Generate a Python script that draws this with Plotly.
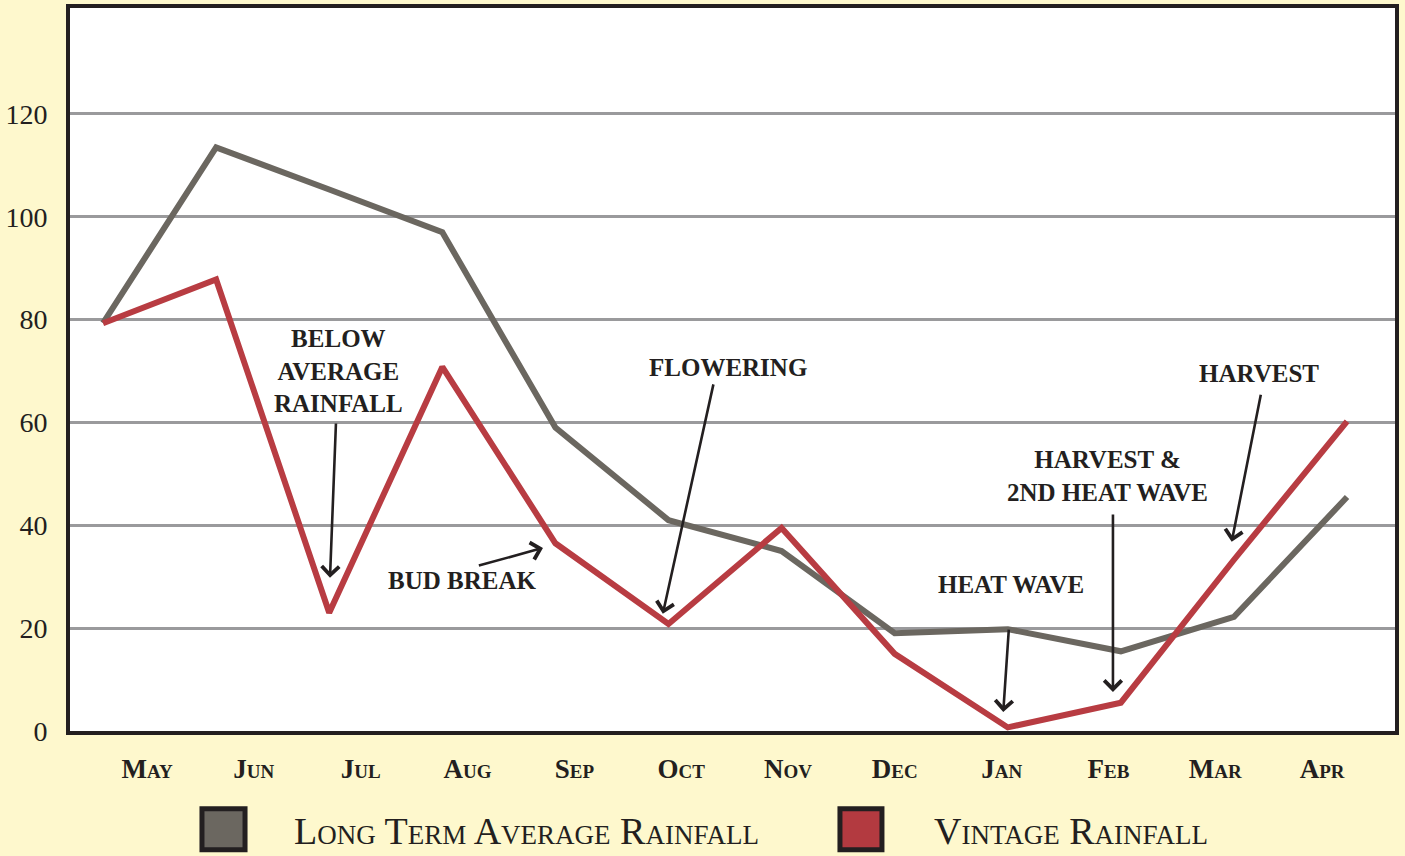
import plotly.graph_objects as go

months = ["May", "Jun", "Jul", "Aug", "Sep", "Oct", "Nov", "Dec", "Jan", "Feb", "Mar", "Apr"]
long_term = [79.3, 113.5, 105.3, 97, 59, 41, 35, 19, 19.8, 15.5, 22.2, 45.5]
vintage = [79.3, 87.8, 23, 70.8, 36.5, 20.8, 39.5, 15, 0.7, 5.5, 33.3, 60.2]
y_ticks = [0, 20, 40, 60, 80, 100, 120]

FONT = "Liberation Serif"
INK = "#231f20"
GRAY = "#6b6760"
RED = "#b83c42"
BG = "#fef8cd"

x = list(range(len(months)))
label_pos = [0.389 + 0.9446 * i for i in range(len(months))]

fig = go.Figure()
fig.add_trace(go.Scatter(x=x, y=long_term, mode="lines", name="Long Term Average Rainfall",
                         line=dict(color=GRAY, width=6), showlegend=False))
fig.add_trace(go.Scatter(x=x, y=vintage, mode="lines", name="Vintage Rainfall",
                         line=dict(color=RED, width=6), showlegend=False))

notes = [
    dict(text="BELOW<br>AVERAGE<br>RAINFALL", x=2.08, y=70.0, tail=(2.06, 60.1), tip=(2.007, 29.8)),
    dict(text="BUD BREAK", x=3.17, y=29.2, tail=(3.31, 32.1), tip=(3.89, 35.6)),
    dict(text="FLOWERING", x=5.53, y=70.6, tail=(5.40, 67.7), tip=(4.95, 22.8)),
    dict(text="HEAT WAVE", x=8.03, y=28.4, tail=(8.01, 20.0), tip=(7.96, 3.7)),
    dict(text="HARVEST &amp;<br>2ND HEAT WAVE", x=8.88, y=49.6, tail=(8.93, 42.4), tip=(8.93, 7.6)),
    dict(text="HARVEST", x=10.22, y=69.6, tail=(10.24, 65.7), tip=(9.98, 36.8)),
]
for n in notes:
    fig.add_annotation(x=n["x"], y=n["y"], xref="x", yref="y", text=n["text"], showarrow=False,
                       font=dict(family=FONT, size=25, color=INK, weight="bold"),
                       xanchor="center", yanchor="middle", align="center")
    fig.add_annotation(x=n["tip"][0], y=n["tip"][1], ax=n["tail"][0], ay=n["tail"][1],
                       xref="x", yref="y", axref="x", ayref="y", text="",
                       showarrow=True, arrowhead=4, arrowsize=1.3, arrowwidth=2.6,
                       arrowcolor=INK, standoff=0, startstandoff=0)

# legend
legend_items = [
    dict(label="Long Term Average Rainfall", color=GRAY, x0=0.0996, x1=0.1321, tx=0.1675),
    dict(label="Vintage Rainfall", color="#b33a40", x0=0.5811, x1=0.6128, tx=0.6506),
]
for it in legend_items:
    fig.add_shape(type="rect", xref="paper", yref="paper", x0=it["x0"], x1=it["x1"],
                  y0=-0.1644, y1=-0.1077, fillcolor=it["color"], line=dict(color=INK, width=5))
    fig.add_annotation(x=it["tx"], y=-0.1381, xref="paper", yref="paper", text=it["label"],
                       showarrow=False, xanchor="left", yanchor="middle",
                       font=dict(family=FONT, size=38, color=INK, variant="small-caps"))

fig.update_layout(
    template="none",
    width=1405, height=856,
    margin=dict(l=70, r=10, t=8, b=125),
    paper_bgcolor=BG, plot_bgcolor="white",
    showlegend=False,
    xaxis=dict(range=[-0.292, 11.424], tickvals=label_pos, ticktext=months, automargin=False,
               showgrid=False, zeroline=False, showline=True, mirror=True,
               linecolor=INK, linewidth=4, ticks="", ticklabelstandoff=11,
               tickfont=dict(family=FONT, size=27, color=INK, weight="bold", variant="small-caps")),
    yaxis=dict(range=[0, 140.6], tickvals=y_ticks, showgrid=True, gridcolor="#9a9a9c", gridwidth=3,
               zeroline=False, showline=True, mirror=True, linecolor=INK, linewidth=4,
               ticks="", ticklabelstandoff=13, automargin=False,
               tickfont=dict(family=FONT, size=28, color=INK)),
)

fig.write_html("out.html", config={"displayModeBar": False},
               post_script="document.body.style.margin='0';document.body.style.overflow='hidden';")
